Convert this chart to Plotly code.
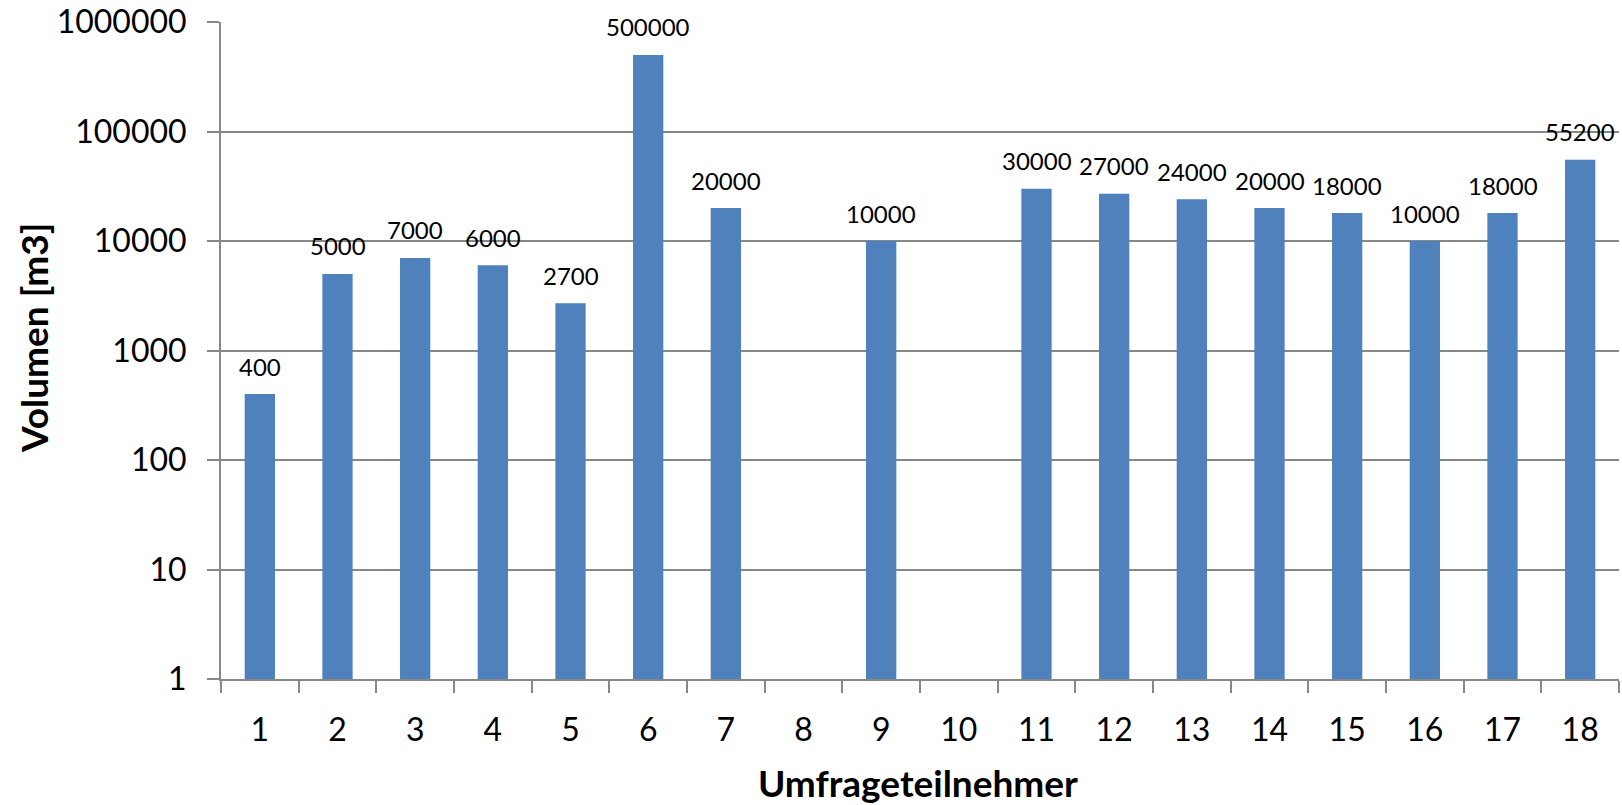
import plotly.graph_objects as go
import math

categories = [str(i) for i in range(1, 19)]
volumes = [400, 5000, 7000, 6000, 2700, 500000, 20000, None, 10000, None,
           30000, 27000, 24000, 20000, 18000, 10000, 18000, 55200]
y_tickvals = [1, 10, 100, 1000, 10000, 100000, 1000000]
y_ticktext = ["1", "10", "100", "1000", "10000", "100000", "1000000"]

FONT = "Lato"
GRID = "#878787"

fig = go.Figure()
fig.add_trace(go.Bar(
    x=categories, y=volumes,
    marker=dict(color="#4F81BD", line=dict(width=0)),
    hoverinfo="x+y",
))

for i, v in enumerate(volumes):
    if v is None:
        continue
    fig.add_annotation(
        x=i, y=math.log10(v), text=str(v), showarrow=False,
        yanchor="middle", yshift=28,
        font=dict(family=FONT, size=24, color="black"),
    )

fig.add_annotation(
    xref="paper", yref="paper", x=0.4986, y=-0.158, text="<b>Umfrageteilnehmer</b>",
    showarrow=False, xanchor="center", yanchor="middle",
    font=dict(family=FONT, size=37, color="black"),
)
fig.add_annotation(
    xref="paper", yref="paper", x=-0.1345, y=0.519, text="<b>Volumen [m3]</b>",
    showarrow=False, xanchor="center", yanchor="middle", textangle=-90,
    font=dict(family=FONT, size=37, color="black"),
)

fig.update_layout(
    width=1622, height=805,
    margin=dict(l=221, r=3, t=22, b=126, autoexpand=False),
    paper_bgcolor="white", plot_bgcolor="white",
    bargap=0.61,
    showlegend=False,
    font=dict(family=FONT, color="black"),
    xaxis=dict(
        type="category", range=[-0.5, 17.5], automargin=False,
        tickson="boundaries", ticks="outside", ticklen=12, tickcolor=GRID, tickwidth=2,
        showline=True, linecolor=GRID, linewidth=2,
        showgrid=False,
        tickfont=dict(family=FONT, size=32, color="black"),
        ticklabelstandoff=22,
    ),
    yaxis=dict(
        type="log", range=[0, 6], automargin=False,
        tickvals=y_tickvals, ticktext=y_ticktext,
        ticks="outside", ticklen=12, tickcolor=GRID, tickwidth=2,
        showline=True, linecolor=GRID, linewidth=2,
        showgrid=True, gridcolor=GRID, gridwidth=2,
        zeroline=False,
        tickfont=dict(family=FONT, size=32, color="black"),
        ticklabelstandoff=14,
    ),
)

fig.write_html(
    "out.html",
    config={"displayModeBar": False},
    post_script="document.body.style.margin='0';document.body.style.overflow='hidden';",
)
